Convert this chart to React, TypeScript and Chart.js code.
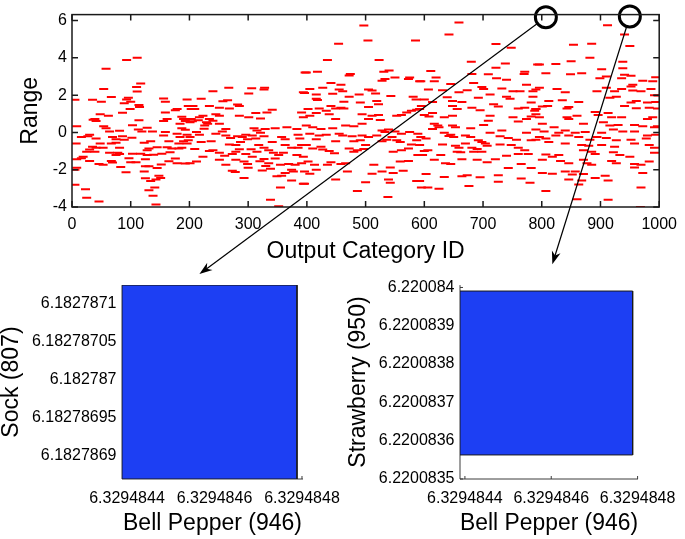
import React, { useEffect, useRef } from "react";
import { Chart, registerables } from "chart.js";

Chart.register(...registerables);

const FONT = "'Liberation Sans', Arial, Helvetica, sans-serif";

// ---------- top panel: Range per output category (id, range) ----------
const RANGE_0_200: [number, number][] = [
  [5,1.75],[8,0.33],[7,-0.6],[8,-1.44],[5,-2.0],[8,-1.9],[5,-2.8],[23,-3.05],[25,-3.5],[46,-3.7],
  [93,3.88],[111,4.0],[58,3.42],[54,2.33],[67,1.9],[35,1.75],[50,1.65],[117,2.63],[110,2.44],[111,2.2],
  [96,1.86],[93,1.77],[100,1.65],[89,1.56],[114,1.47],[115,1.37],[99,1.25],[86,1.05],[48,0.98],[62,0.9],
  [39,0.72],[41,0.61],[36,0.68],[114,0.65],[103,0.39],[54,0.33],[58,0.23],[30,-0.12],[27,-0.2],[16,-0.25],
  [41,-0.33],[64,0.05],[81,0.09],[113,0.16],[119,0.05],[128,0.25],[137,0.05],[69,-0.25],[75,-0.37],[86,-0.2],
  [102,-0.28],[89,-0.39],[75,-0.56],[67,-0.6],[123,-0.56],[134,-0.47],[48,-0.6],[53,-0.82],[35,-0.77],[30,-0.91],
  [25,-1.04],[19,-1.3],[16,-1.39],[39,-1.04],[41,-0.82],[81,-0.82],[64,-1.09],[78,-1.09],[81,-1.16],[75,-1.21],
  [103,-1.14],[117,-1.14],[128,-1.21],[139,-1.2],[153,-1.14],[131,-0.86],[128,-0.95],[145,-0.79],[162,-0.79],[170,-0.86],
  [167,-1.07],[182,-0.86],[187,-0.82],[30,-1.53],[46,-1.7],[53,-1.74],[69,-1.61],[67,-1.53],[83,-1.86],[97,-1.39],
  [100,-1.6],[109,-1.6],[125,-1.44],[125,-1.82],[123,-2.09],[92,-2.14],[131,-1.82],[145,-1.91],[152,-1.72],[176,-1.4],
  [179,-1.65],[165,-1.54],[193,-1.67],[125,-2.46],[134,-2.61],[131,-3.1],[148,-2.32],[151,-2.44],[143,-2.53],[141,-2.96],
  [138,-3.4],[143,-3.86],[156,1.82],[159,1.65],[159,1.07],[176,1.19],[179,1.25],[162,0.72],[156,0.61],[187,0.84],
  [190,0.72],[193,0.61],[184,0.46],[196,1.77],[198,1.42],[187,0.23],[193,0.14],[179,-0.07],[184,-0.25],[196,-0.12],
  [190,-0.47],[159,0.02],[156,-0.16],[165,-0.47],[182,-0.6],[196,-0.6],
];

const RANGE_200_400: [number, number][] = [
  [240,2.21],[267,2.39],[306,2.37],[328,2.39],[327,2.3],[397,3.21],[394,2.16],[220,1.8],[257,1.67],[265,1.72],
  [301,2.09],[282,1.5],[285,1.42],[206,1.42],[209,1.25],[203,1.25],[234,1.42],[251,1.33],[268,1.28],[313,1.04],
  [332,1.07],[341,1.21],[285,0.9],[301,0.81],[321,0.75],[391,1.07],[394,0.81],[203,0.72],[217,0.81],[223,0.9],
  [234,0.72],[245,0.98],[251,0.9],[229,0.54],[231,0.46],[226,0.37],[201,0.54],[251,0.46],[262,0.19],[310,0.23],
  [315,0.1],[321,-0.02],[329,0.19],[346,0.23],[366,0.28],[383,0.19],[212,0.02],[217,-0.12],[245,-0.07],[201,-0.25],
  [198,-0.42],[262,-0.16],[290,-0.25],[296,-0.12],[282,-0.2],[307,-0.16],[313,-0.33],[299,-0.37],[327,-0.21],[341,-0.51],
  [357,-0.25],[363,-0.37],[385,-0.12],[388,-0.33],[220,-0.51],[237,-0.47],[268,-0.65],[279,-0.68],[287,-0.51],[318,-0.68],
  [327,-0.82],[363,-0.68],[374,-0.82],[391,-0.68],[385,-0.82],[209,-0.89],[234,-1.0],[251,-1.09],[273,-1.16],[296,-1.16],
  [315,-1.04],[343,-1.09],[352,-1.21],[360,-1.09],[383,-1.21],[394,-1.3],[201,-1.65],[212,-1.56],[251,-1.47],[262,-1.74],
  [279,-1.47],[293,-1.56],[299,-1.7],[327,-1.42],[335,-1.65],[355,-1.74],[369,-1.7],[380,-1.74],[391,-1.65],[273,-2.05],
  [278,-2.12],[324,-2.04],[338,-1.95],[349,-2.35],[357,-2.32],[363,-2.18],[374,-2.0],[377,-2.09],[293,-2.44],[374,-2.58],
  [394,-2.75],[355,-2.96],[338,-3.61],[352,-3.96],[240,-0.95],[223,-1.3],[279,-1.04],[307,-1.3],[205,0.6],[215,0.65],
  [240,0.62],[225,0.2],[256,0.05],[270,-0.3],[285,-0.9],[305,-0.9],[335,-0.95],[346,-1.4],[320,-1.55],[260,-1.25],
  [300,-1.9],[330,-1.8],
];

const RANGE_400_600: [number, number][] = [
  [497,5.74],[454,4.75],[504,4.93],[585,4.93],[435,3.88],[523,3.88],[399,3.21],[418,3.26],[474,3.14],[472,3.05],
  [531,3.26],[540,3.32],[533,2.86],[550,2.95],[528,2.77],[573,2.86],[575,2.95],[592,2.74],[441,2.65],[458,2.56],
  [427,2.39],[405,2.33],[455,2.3],[461,2.21],[505,2.3],[511,2.25],[444,2.07],[416,2.04],[472,1.91],[489,2.04],
  [517,2.09],[543,1.95],[581,1.91],[586,1.77],[416,1.8],[418,1.74],[463,1.65],[519,1.68],[522,1.51],[396,2.12],
  [441,1.42],[449,1.28],[491,1.6],[505,1.37],[595,1.42],[592,1.25],[402,1.25],[421,1.28],[433,1.16],[458,1.32],
  [463,1.28],[494,0.98],[511,0.9],[522,0.93],[553,0.9],[561,0.93],[570,1.07],[578,1.16],[587,1.21],[416,1.04],
  [438,0.98],[449,0.72],[405,0.9],[466,0.37],[480,0.33],[494,0.46],[505,0.72],[525,0.67],[399,0.37],[410,0.28],
  [444,0.23],[424,0.19],[528,0.1],[539,0.16],[533,0.02],[550,0.05],[561,-0.07],[575,0.02],[589,-0.07],[405,-0.07],
  [421,-0.16],[433,-0.12],[455,-0.07],[461,-0.16],[477,-0.2],[494,-0.16],[505,-0.25],[519,-0.16],[545,-0.25],[559,-0.51],
  [553,-0.42],[416,-0.37],[449,-0.47],[480,-0.47],[491,-0.42],[528,-0.47],[536,-0.39],[587,-0.42],[578,-0.65],[399,-0.68],
  [410,-0.86],[424,-0.77],[447,-1.12],[472,-0.86],[480,-1.04],[486,-0.95],[500,-0.68],[497,-0.89],[547,-1.04],[561,-0.95],
  [573,-0.86],[592,-0.68],[589,-1.21],[402,-1.56],[413,-1.74],[435,-1.74],[441,-1.6],[458,-1.7],[466,-1.65],[514,-1.74],
  [542,-1.88],[559,-1.56],[573,-1.53],[396,-2.09],[405,-2.21],[416,-2.0],[449,-2.53],[469,-2.09],[511,-2.21],[528,-2.09],
  [547,-2.18],[564,-2.05],[539,-2.53],[542,-2.7],[500,-2.67],[587,-2.61],[595,-2.96],[396,-2.75],[486,-3.14],[538,-3.46],
  [427,-0.91],[438,-1.0],
];

const RANGE_600_800: [number, number][] = [
  [659,5.89],[642,5.25],[722,4.74],[748,4.54],[680,3.79],[738,3.7],[611,3.3],[722,3.47],[709,3.12],[681,3.14],
  [771,3.25],[770,3.14],[793,3.65],[620,2.95],[617,2.74],[723,2.91],[740,2.82],[594,2.74],[645,2.6],[684,2.65],
  [698,2.44],[701,2.33],[774,2.56],[607,2.3],[631,2.26],[659,2.16],[673,2.26],[732,2.35],[751,2.21],[763,2.21],
  [785,2.21],[790,2.3],[639,1.89],[648,1.68],[692,1.86],[712,2.04],[740,1.91],[746,1.8],[782,1.6],[785,1.91],
  [600,1.77],[614,1.63],[664,1.63],[718,1.51],[726,1.39],[648,1.42],[656,1.25],[681,1.33],[695,1.19],[760,1.28],
  [771,1.33],[790,1.25],[788,1.16],[712,0.89],[709,0.63],[614,1.04],[608,0.86],[600,0.93],[634,0.81],[648,0.89],
  [751,0.81],[774,0.72],[782,0.86],[790,0.98],[760,0.58],[701,0.4],[617,0.46],[623,0.37],[625,0.28],[614,0.19],
  [648,0.37],[653,0.28],[679,0.23],[732,0.1],[790,0.16],[774,-0.02],[594,-0.25],[603,-0.33],[634,-0.02],[642,-0.19],
  [650,-0.25],[645,-0.12],[670,-0.16],[679,-0.25],[692,-0.42],[712,-0.02],[729,-0.21],[743,-0.3],[757,-0.39],[782,-0.42],
  [790,-0.39],[631,-0.65],[653,-0.72],[670,-0.6],[698,-0.51],[704,-0.6],[707,-0.72],[681,-0.82],[690,-0.89],[659,-0.82],
  [656,-1.04],[729,-0.65],[748,-0.68],[760,-0.82],[771,-0.95],[600,-1.0],[597,-1.21],[606,-0.95],[628,-1.21],[662,-1.07],
  [684,-1.04],[698,-1.04],[740,-1.25],[760,-1.16],[777,-1.16],[617,-1.47],[636,-1.65],[645,-1.7],[664,-1.44],[690,-1.47],
  [707,-1.6],[721,-1.44],[743,-1.91],[765,-1.7],[782,-1.91],[603,-2.23],[634,-2.39],[664,-2.35],[673,-2.3],[695,-2.4],
  [726,-2.3],[765,-2.47],[726,-2.65],[606,-2.96],[625,-3.02],[676,-2.88],[780,-2.7],[592,-2.61],
];

const RANGE_800_1000: [number, number][] = [
  [912,5.75],[941,5.25],[854,4.7],[885,4.75],[950,4.63],[850,3.82],[882,4.0],[938,3.79],[796,3.65],[824,3.67],
  [902,3.39],[938,3.44],[807,3.18],[849,3.12],[868,3.18],[941,3.09],[952,3.04],[899,2.91],[910,3.0],[994,2.96],
  [936,2.91],[972,2.77],[989,2.74],[955,2.56],[952,2.47],[796,2.39],[826,2.33],[894,2.21],[910,2.39],[924,2.21],
  [936,2.33],[955,2.25],[969,2.21],[986,2.33],[840,2.16],[992,2.0],[998,1.98],[916,1.86],[927,1.91],[812,1.68],
  [835,1.72],[863,1.63],[952,1.6],[961,1.68],[980,1.6],[994,1.63],[801,1.39],[810,1.42],[846,1.37],[843,1.28],
  [941,1.42],[961,1.3],[983,1.33],[997,1.28],[891,1.1],[896,0.93],[860,0.9],[843,0.81],[846,0.72],[796,0.81],
  [790,1.25],[919,0.81],[936,0.81],[989,0.81],[980,0.72],[913,1.04],[801,0.46],[821,0.28],[871,0.46],[905,0.54],
  [916,0.37],[930,0.4],[958,0.4],[972,0.33],[992,0.28],[997,0.33],[804,0.05],[829,-0.02],[840,0.1],[857,-0.02],
  [874,0.02],[902,-0.02],[922,0.16],[938,0.05],[958,0.05],[980,-0.16],[994,-0.12],[796,-0.25],[807,-0.33],[824,-0.16],
  [846,-0.16],[863,-0.25],[882,-0.39],[894,-0.25],[910,-0.3],[927,-0.42],[952,-0.39],[978,-0.33],[812,-0.51],[840,-0.6],
  [868,-0.68],[880,-0.72],[902,-0.68],[924,-0.77],[958,-0.6],[983,-0.68],[992,-0.82],[807,-1.18],[818,-1.3],[829,-1.21],
  [871,-0.95],[885,-1.04],[891,-1.16],[922,-1.07],[933,-1.21],[950,-1.3],[992,-1.09],[801,-1.47],[832,-1.53],[846,-1.65],
  [871,-1.47],[877,-1.65],[885,-1.74],[919,-1.53],[927,-1.65],[958,-1.7],[969,-1.74],[983,-1.56],[801,-2.18],[818,-2.21],
  [840,-2.09],[852,-2.26],[857,-2.09],[871,-2.23],[908,-2.32],[913,-2.58],[958,-1.88],[972,-2.18],[846,-2.53],[868,-2.58],
  [863,-2.79],[891,-2.44],[807,-3.14],[860,-3.58],[913,-3.61],[969,-2.96],[968,-4.0],
];

// highlighted (circled) outputs: Sock (807) and Strawberry (950)
const HIGHLIGHT_IDS = [807, 950];
const HIGHLIGHT_RANGES = [6.1827870, 6.2200839];
// arrow tips, in top-panel data coordinates (below the axis, pointing at the zoom panels)
const ARROW_TIP_IDS = [217, 818];
const ARROW_TIP_RANGES = [-7.6, -7.07];

// ---------- zoom panels ----------
const BELL_PEPPER_946 = [6.3294843886, 6.3294847886];
const SOCK_807 = [6.182786869, 6.182787124];
const STRAWBERRY_950 = [6.2200835628, 6.2200839907];
const LEFT_X_LIMITS = [6.3294843886, 6.3294848023];
const LEFT_Y_LIMITS = [6.182786869, 6.182787124];
const RIGHT_X_LIMITS = [6.3294843886, 6.329484801];
const RIGHT_Y_LIMITS = [6.22008349999, 6.2200840062];

const fmt = (v: number, d: number) => {
  let s = Number(v).toFixed(d);
  if (s.indexOf(".") >= 0) s = s.replace(/0+$/, "").replace(/\.$/, "");
  return s;
};

const topBoxPlugin = {
  id: "topBox",
  afterDatasetsDraw(chart: any) {
    const { ctx, chartArea, scales } = chart;
    const { left, right, top, bottom } = chartArea;
    const x = scales.x, y = scales.y;
    ctx.save();
    ctx.strokeStyle = "#1a1a1a";
    ctx.lineWidth = 1.5;
    ctx.strokeRect(left, top, right - left, bottom - top);
    const L = 6;
    ctx.beginPath();
    x.ticks.forEach((t: any) => {
      const px = x.getPixelForValue(t.value);
      ctx.moveTo(px, bottom); ctx.lineTo(px, bottom - L);
      ctx.moveTo(px, top); ctx.lineTo(px, top + L);
    });
    y.ticks.forEach((t: any) => {
      const py = y.getPixelForValue(t.value);
      ctx.moveTo(left, py); ctx.lineTo(left + L, py);
      ctx.moveTo(right, py); ctx.lineTo(right - L, py);
    });
    ctx.stroke();
    ctx.restore();
  },
  afterDraw(chart: any) {
    const { ctx, scales } = chart;
    const x = scales.x, y = scales.y;
    ctx.save();
    ctx.strokeStyle = "#000";
    ctx.fillStyle = "#000";
    ctx.lineWidth = 1.2;
    HIGHLIGHT_IDS.forEach((id, i) => {
      const cx = x.getPixelForValue(id), cy = y.getPixelForValue(HIGHLIGHT_RANGES[i]);
      const px = x.getPixelForValue(ARROW_TIP_IDS[i]), py = y.getPixelForValue(ARROW_TIP_RANGES[i]);
      const dx = px - cx, dy = py - cy;
      const len = Math.hypot(dx, dy);
      const ux = dx / len, uy = dy / len;
      const r = 11;
      const sx = cx + ux * r, sy = cy + uy * r;
      const headLen = 13, headW = 4.5;
      const bx = px - ux * headLen, by = py - uy * headLen;
      ctx.beginPath();
      ctx.moveTo(sx, sy);
      ctx.lineTo(px - ux * headLen * 0.6, py - uy * headLen * 0.6);
      ctx.stroke();
      ctx.beginPath();
      ctx.moveTo(px, py);
      ctx.lineTo(bx - uy * headW, by + ux * headW);
      ctx.lineTo(px - ux * headLen * 0.7, py - uy * headLen * 0.7);
      ctx.lineTo(bx + uy * headW, by - ux * headW);
      ctx.closePath();
      ctx.fill();
    });
    ctx.restore();
  },
};

const panelAxesPlugin = {
  id: "panelAxes",
  beforeDatasetsDraw(chart: any) {
    const { ctx, chartArea, scales } = chart;
    const { left, right, top, bottom } = chartArea;
    const x = scales.x, y = scales.y;
    ctx.save();
    ctx.strokeStyle = "#3c3c3c";
    ctx.lineWidth = 1;
    ctx.beginPath();
    ctx.moveTo(left, top); ctx.lineTo(left, bottom); ctx.lineTo(right, bottom);
    const L = 3;
    x.ticks.forEach((t: any) => {
      const px = x.getPixelForValue(t.value);
      ctx.moveTo(px, bottom); ctx.lineTo(px, bottom - L);
    });
    y.ticks.forEach((t: any) => {
      const py = y.getPixelForValue(t.value);
      ctx.moveTo(left, py); ctx.lineTo(left + L, py);
    });
    ctx.stroke();
    ctx.restore();
  },
};

function TopPanel() {
  const ref = useRef<HTMLCanvasElement>(null);
  useEffect(() => {
    const pts = [...RANGE_0_200, ...RANGE_200_400, ...RANGE_400_600, ...RANGE_600_800, ...RANGE_800_1000]
      .map(([x, y]) => ({ x, y }));
    const chart = new Chart(ref.current!, {
      type: "scatter",
      data: {
        datasets: [
          {
            data: HIGHLIGHT_IDS.map((x, i) => ({ x, y: HIGHLIGHT_RANGES[i] })),
            pointStyle: "circle",
            pointRadius: 10.5,
            pointBorderWidth: 3,
            pointBorderColor: "#000",
            pointBackgroundColor: "rgba(0,0,0,0)",
            clip: false,
          } as any,
          {
            data: pts,
            pointStyle: "line",
            pointRadius: 4.5,
            pointBorderWidth: 2,
            pointBorderColor: "#ff0000",
            pointBackgroundColor: "#ff0000",
          } as any,
        ],
      },
      options: {
        animation: false,
        responsive: false,
        events: [],
        layout: { padding: { left: 0, top: 11, right: 18, bottom: 23 } },
        plugins: { legend: { display: false }, tooltip: { enabled: false } },
        scales: {
          x: {
            type: "linear",
            min: 0,
            max: 1000,
            grid: { display: false, drawTicks: false },
            border: { display: false },
            ticks: {
              stepSize: 100, padding: 8, autoSkip: false, maxRotation: 0, includeBounds: false,
              color: "#000", font: { family: FONT, size: 16 },
              callback: (v: any) => String(v),
            },
            title: {
              display: true, text: "Output Category ID", color: "#000",
              font: { family: FONT, size: 23 }, padding: { top: 0, bottom: 2 },
            },
            afterFit: (s: any) => { s.height = 60; },
          },
          y: {
            type: "linear",
            min: -4,
            max: 6.32,
            grid: { display: false, drawTicks: false },
            border: { display: false },
            ticks: {
              stepSize: 2, padding: 5, includeBounds: false,
              color: "#000", font: { family: FONT, size: 16 },
              callback: (v: any) => String(v),
            },
            title: {
              display: true, text: "Range", color: "#000",
              font: { family: FONT, size: 23 }, padding: { top: 17, bottom: 0 },
            },
            afterFit: (s: any) => { s.width = 72; },
          },
        },
      } as any,
      plugins: [topBoxPlugin],
    });
    return () => chart.destroy();
  }, []);
  return <canvas ref={ref} width={685} height={290} style={{ position: "absolute", left: 0, top: 0 }} />;
}

type PanelProps = {
  left: number; width: number; yTitle: string; yTitlePad: number; axisWidth: number;
  padRight: number; padTop: number; xLim: number[]; yLim: number[]; rectX: number[]; rectY: number[];
  yStep: number; yDec: number;
};

function ZoomPanel(p: PanelProps) {
  const ref = useRef<HTMLCanvasElement>(null);
  useEffect(() => {
    const [x0, x1] = p.rectX;
    const [y0, y1] = p.rectY;
    const chart = new Chart(ref.current!, {
      type: "line",
      data: {
        datasets: [
          {
            data: [
              { x: x0, y: y0 }, { x: x0, y: y1 }, { x: x1, y: y1 }, { x: x1, y: y0 }, { x: x0, y: y0 },
            ],
            fill: "shape",
            backgroundColor: "#1d3ff3",
            borderColor: "#1a1a1a",
            borderWidth: 1,
            pointRadius: 0,
            tension: 0,
          } as any,
        ],
      },
      options: {
        animation: false,
        responsive: false,
        events: [],
        layout: { padding: { left: 0, top: p.padTop, right: p.padRight, bottom: 0 } },
        plugins: { legend: { display: false }, tooltip: { enabled: false } },
        scales: {
          x: {
            type: "linear",
            min: p.xLim[0],
            max: p.xLim[1],
            grid: { display: false, drawTicks: false },
            border: { display: false },
            ticks: {
              stepSize: 2e-7, padding: 9.5, autoSkip: false, maxRotation: 0, includeBounds: false,
              color: "#000", font: { family: FONT, size: 16 },
              callback: (v: any) => fmt(v, 7),
            },
            title: {
              display: true, text: "Bell Pepper (946)", color: "#000",
              font: { family: FONT, size: 23 }, padding: { top: 0, bottom: 1.5 },
            },
            afterFit: (s: any) => { s.height = 60; },
          },
          y: {
            type: "linear",
            min: p.yLim[0],
            max: p.yLim[1],
            grid: { display: false, drawTicks: false },
            border: { display: false },
            ticks: {
              stepSize: p.yStep, padding: 5.5, includeBounds: false,
              color: "#000", font: { family: FONT, size: 16 },
              callback: (v: any) => fmt(v, p.yDec),
            },
            title: {
              display: true, text: p.yTitle, color: "#000",
              font: { family: FONT, size: 23 }, padding: { top: p.yTitlePad, bottom: 0 },
            },
            afterFit: (s: any) => { s.width = p.axisWidth; },
          },
        },
      } as any,
      plugins: [panelAxesPlugin],
    });
    return () => chart.destroy();
  }, []);
  return (
    <canvas ref={ref} width={p.width} height={269}
      style={{ position: "absolute", left: p.left, top: 270 }} />
  );
}

export default function App() {
  return (
    <div style={{ position: "absolute", left: 0, top: 0, width: 685, height: 539, background: "#fff" }}>
      <ZoomPanel left={0} width={370} yTitle="Sock (807)" yTitlePad={-2} axisWidth={122}
        padRight={67} padTop={13} xLim={LEFT_X_LIMITS} yLim={LEFT_Y_LIMITS}
        rectX={BELL_PEPPER_946} rectY={SOCK_807} yStep={5e-8} yDec={8} />
      <ZoomPanel left={330} width={355} yTitle="Strawberry (950)" yTitlePad={14.7} axisWidth={130}
        padRight={43.3} padTop={13.3} xLim={RIGHT_X_LIMITS} yLim={RIGHT_Y_LIMITS}
        rectX={BELL_PEPPER_946} rectY={STRAWBERRY_950} yStep={1e-7} yDec={7} />
      <TopPanel />
    </div>
  );
}
